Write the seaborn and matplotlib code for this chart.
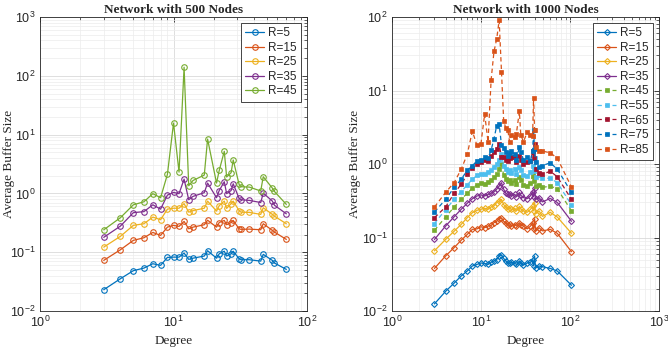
import numpy as np
import pandas as pd
import matplotlib
matplotlib.use("Agg")
import matplotlib.pyplot as plt
import seaborn as sns
from matplotlib.ticker import LogLocator, LogFormatterMathtext, NullFormatter

# ---------------- data ----------------
titles = ["Network with 500 Nodes", "Network with 1000 Nodes"]
xlabel = "Degree"
ylabel = "Average Buffer Size"

deg500 = [3, 4, 5, 6, 7, 8, 9, 10, 11, 12, 13, 14, 17, 18, 21, 22, 24, 25, 27, 28,
          31, 32, 37, 45, 47, 55, 57, 70]
r500 = [5, 15, 25, 35, 45]
n500_r5 = [0.023, 0.0354, 0.0485, 0.0537, 0.0637, 0.0597, 0.0816, 0.0825, 0.0825, 0.0966,
           0.0755, 0.0792, 0.086, 0.106, 0.0792, 0.094, 0.104, 0.086, 0.094, 0.104,
           0.0775, 0.0745, 0.0745, 0.0706, 0.092, 0.0725, 0.0655, 0.051]
n500_r15 = [0.0726, 0.11, 0.159, 0.176, 0.217, 0.193, 0.267, 0.286, 0.275, 0.334,
            0.25, 0.267, 0.293, 0.35, 0.267, 0.32, 0.347, 0.293, 0.32, 0.347,
            0.25, 0.245, 0.247, 0.241, 0.305, 0.235, 0.22, 0.165]
n500_r25 = [0.122, 0.186, 0.286, 0.305, 0.395, 0.357, 0.54, 0.56, 0.56, 0.67,
            0.48, 0.51, 0.56, 0.74, 0.50, 0.62, 0.74, 0.555, 0.67, 0.74,
            0.51, 0.48, 0.475, 0.44, 0.57, 0.44, 0.41, 0.305]
n500_r35 = [0.179, 0.278, 0.47, 0.49, 0.64, 0.54, 0.935, 1.04, 0.99, 1.75,
            0.78, 0.89, 1.03, 1.5, 0.845, 1.12, 1.58, 0.99, 1.12, 1.46,
            0.82, 0.78, 0.76, 0.70, 1.01, 0.74, 0.63, 0.45]
n500_r45 = [0.24, 0.386, 0.64, 0.72, 0.99, 0.845, 2.1, 15.7, 2.3, 140,
            1.35, 1.66, 2.05, 8.4, 1.5, 2.46, 5.2, 1.9, 2.25, 3.7,
            1.42, 1.3, 1.28, 1.1, 1.92, 1.23, 1.08, 0.65]

deg1000 = [3, 4, 5, 6, 7, 8, 9, 10, 11, 12, 13, 14, 15, 16, 17, 18, 19, 20, 21, 22,
           24, 25, 27, 28, 30, 33, 36, 38, 39, 40, 41, 45, 49, 60, 72, 104]
r1000 = [5, 15, 25, 35, 45, 55, 65, 75, 85]
n1000_r5 = [0.0125, 0.0185, 0.024, 0.030, 0.035, 0.041, 0.043, 0.045, 0.0445, 0.043,
            0.046, 0.048, 0.050, 0.056, 0.058, 0.052, 0.048, 0.045, 0.0445, 0.046,
            0.0445, 0.043, 0.048, 0.045, 0.042, 0.045, 0.046, 0.050, 0.041, 0.056,
            0.039, 0.041, 0.040, 0.038, 0.035, 0.0224]
n1000_r15 = [0.038, 0.056, 0.073, 0.092, 0.110, 0.129, 0.131, 0.140, 0.136, 0.143,
             0.146, 0.159, 0.166, 0.180, 0.185, 0.166, 0.159, 0.150, 0.155, 0.143,
             0.150, 0.143, 0.159, 0.150, 0.143, 0.131, 0.143, 0.159, 0.129, 0.180,
             0.123, 0.136, 0.123, 0.129, 0.114, 0.064]
n1000_r25 = [0.066, 0.094, 0.122, 0.151, 0.186, 0.218, 0.234, 0.242, 0.250, 0.242,
             0.260, 0.270, 0.298, 0.310, 0.330, 0.280, 0.260, 0.242, 0.250, 0.242,
             0.250, 0.230, 0.265, 0.245, 0.230, 0.220, 0.242, 0.265, 0.230, 0.298,
             0.210, 0.230, 0.194, 0.220, 0.190, 0.114]
n1000_r35 = [0.094, 0.143, 0.192, 0.242, 0.292, 0.337, 0.367, 0.380, 0.367, 0.385,
             0.400, 0.420, 0.453, 0.500, 0.557, 0.453, 0.400, 0.385, 0.390, 0.367,
             0.385, 0.360, 0.410, 0.375, 0.350, 0.337, 0.370, 0.420, 0.360, 0.470,
             0.330, 0.350, 0.305, 0.340, 0.300, 0.166]
n1000_r45 = [0.125, 0.19, 0.26, 0.33, 0.40, 0.47, 0.52, 0.55, 0.54, 0.57,
             0.60, 0.66, 0.72, 0.85, 1.0, 0.70, 0.62, 0.58, 0.60, 0.56,
             0.60, 0.54, 0.66, 0.60, 0.52, 0.50, 0.56, 0.68, 0.58, 0.85,
             0.50, 0.52, 0.48, 0.50, 0.46, 0.23]
n1000_r55 = [0.155, 0.24, 0.33, 0.42, 0.52, 0.62, 0.70, 0.74, 0.72, 0.78,
             0.82, 0.92, 1.0, 1.15, 1.35, 0.95, 0.85, 0.78, 0.82, 0.76,
             0.85, 0.74, 0.92, 0.82, 0.70, 0.68, 0.78, 0.95, 0.80, 1.2,
             0.66, 0.70, 0.64, 0.64, 0.56, 0.277]
n1000_r65 = [0.186, 0.26, 0.40, 0.53, 0.72, 0.88, 1.0, 1.05, 1.15, 1.1,
             1.28, 1.45, 1.6, 1.85, 1.25, 1.25, 1.15, 1.1, 1.2, 1.25,
             1.25, 1.05, 1.3, 1.15, 1.0, 1.05, 1.1, 1.5, 1.2, 1.9,
             0.85, 0.75, 0.72, 0.80, 0.67, 0.33]
n1000_r75 = [0.222, 0.33, 0.48, 0.62, 0.82, 0.95, 1.1, 1.15, 1.25, 1.2,
             1.55, 2.2, 3.3, 3.5, 1.8, 1.65, 1.45, 1.3, 1.4, 1.5,
             1.35, 1.15, 1.7, 1.45, 1.15, 1.25, 1.1, 1.5, 2.9, 1.6,
             1.05, 0.9, 0.95, 1.04, 0.85, 0.41]
n1000_r85 = [0.26, 0.41, 0.56, 0.85, 1.35, 2.8, 1.8, 1.9, 4.8, 2.0,
             14, 34, 50, 90, 18, 3.8, 3.1, 2.9, 2.0, 2.5,
             2.3, 2.6, 5.2, 2.5, 2.0, 2.7, 2.5, 2.4, 8.0, 2.9,
             1.7, 1.5, 1.5, 1.42, 1.2, 0.486]

# ---------------- style ----------------
sns.set_theme(style="white")
plt.rcParams.update({
    "font.family": ["Liberation Sans", "DejaVu Sans"],
    "mathtext.default": "regular",
    "axes.edgecolor": "#262626",
    "axes.linewidth": 0.6,
    "xtick.color": "#262626",
    "ytick.color": "#262626",
})

colors = ["#0072BD", "#D95319", "#EDB120", "#7E2F8E", "#77AC30",
          "#4DBEEE", "#A2142F", "#0072BD", "#D95319"]

fig = plt.figure(figsize=(6.68, 3.5), dpi=100)
ax1 = fig.add_axes([0.0599, 0.1114, 0.3997, 0.84])
ax2 = fig.add_axes([0.5868, 0.1114, 0.3997, 0.84])

left_series = [n500_r5, n500_r15, n500_r25, n500_r35, n500_r45]
right_series = [n1000_r5, n1000_r15, n1000_r25, n1000_r35, n1000_r45,
                n1000_r55, n1000_r65, n1000_r75, n1000_r85]

for i, (r, vals) in enumerate(zip(r500, left_series)):
    sns.lineplot(x=deg500, y=vals, ax=ax1, color=colors[i], marker="o",
                 markersize=4.0, markerfacecolor="none", markeredgecolor=colors[i],
                 markeredgewidth=0.8, linewidth=0.9, label=f"R={r}")

for i, (r, vals) in enumerate(zip(r1000, right_series)):
    if r <= 35:
        sns.lineplot(x=deg1000, y=vals, ax=ax2, color=colors[i], marker="D",
                     markersize=3.0, markerfacecolor="none", markeredgecolor=colors[i],
                     markeredgewidth=0.8, linewidth=0.9, label=f"R={r}")
    else:
        sns.lineplot(x=deg1000, y=vals, ax=ax2, color=colors[i], marker="s",
                     markersize=3.2, markerfacecolor=colors[i], markeredgecolor=colors[i],
                     markeredgewidth=0.5, linewidth=0.9, linestyle=(0, (3.5, 2.5)),
                     label=f"R={r}")

serif = ["Liberation Serif", "DejaVu Serif"]
for ax, title, xl, yl, ylx in [(ax1, titles[0], (1, 100), (0.01, 1000), -0.094),
                               (ax2, titles[1], (1, 1000), (0.01, 100), -0.116)]:
    ax.set_xscale("log")
    ax.set_yscale("log")
    ax.set_xlim(*xl)
    ax.set_ylim(*yl)
    ax.xaxis.set_major_locator(LogLocator(base=10, numticks=10))
    ax.yaxis.set_major_locator(LogLocator(base=10, numticks=10))
    ax.xaxis.set_minor_locator(LogLocator(base=10, subs=np.arange(2, 10), numticks=20))
    ax.yaxis.set_minor_locator(LogLocator(base=10, subs=np.arange(2, 10), numticks=20))
    ax.xaxis.set_major_formatter(LogFormatterMathtext())
    ax.yaxis.set_major_formatter(LogFormatterMathtext())
    ax.xaxis.set_minor_formatter(NullFormatter())
    ax.yaxis.set_minor_formatter(NullFormatter())
    ax.grid(True, which="major", color="#d9d9d9", linewidth=0.6)
    ax.grid(True, which="minor", color="#ececec", linewidth=0.5)
    ax.set_axisbelow(True)
    ax.tick_params(which="both", direction="in", top=True, right=True,
                   labelsize=9, pad=3)
    ax.tick_params(which="major", length=3.5, width=0.6)
    ax.tick_params(which="minor", length=2, width=0.5)
    for s in ax.spines.values():
        s.set_visible(True)
    ax.set_title(title, family=serif, fontweight="bold", fontsize=9.5, pad=3)
    ax.set_xlabel(xlabel, family=serif, fontsize=9.5, labelpad=3)
    ax.set_ylabel(ylabel, family=serif, fontsize=9.5)
    ax.yaxis.set_label_coords(ylx, 0.5)
    leg = ax.legend(loc="upper right", frameon=True, fancybox=False, fontsize=8.5,
                    handlelength=1.6, borderpad=0.35, labelspacing=0.22,
                    handletextpad=0.35, borderaxespad=0.5, framealpha=1)
    leg.get_frame().set_edgecolor("#262626")
    leg.get_frame().set_linewidth(0.6)

fig.savefig("out.png", dpi=100)
